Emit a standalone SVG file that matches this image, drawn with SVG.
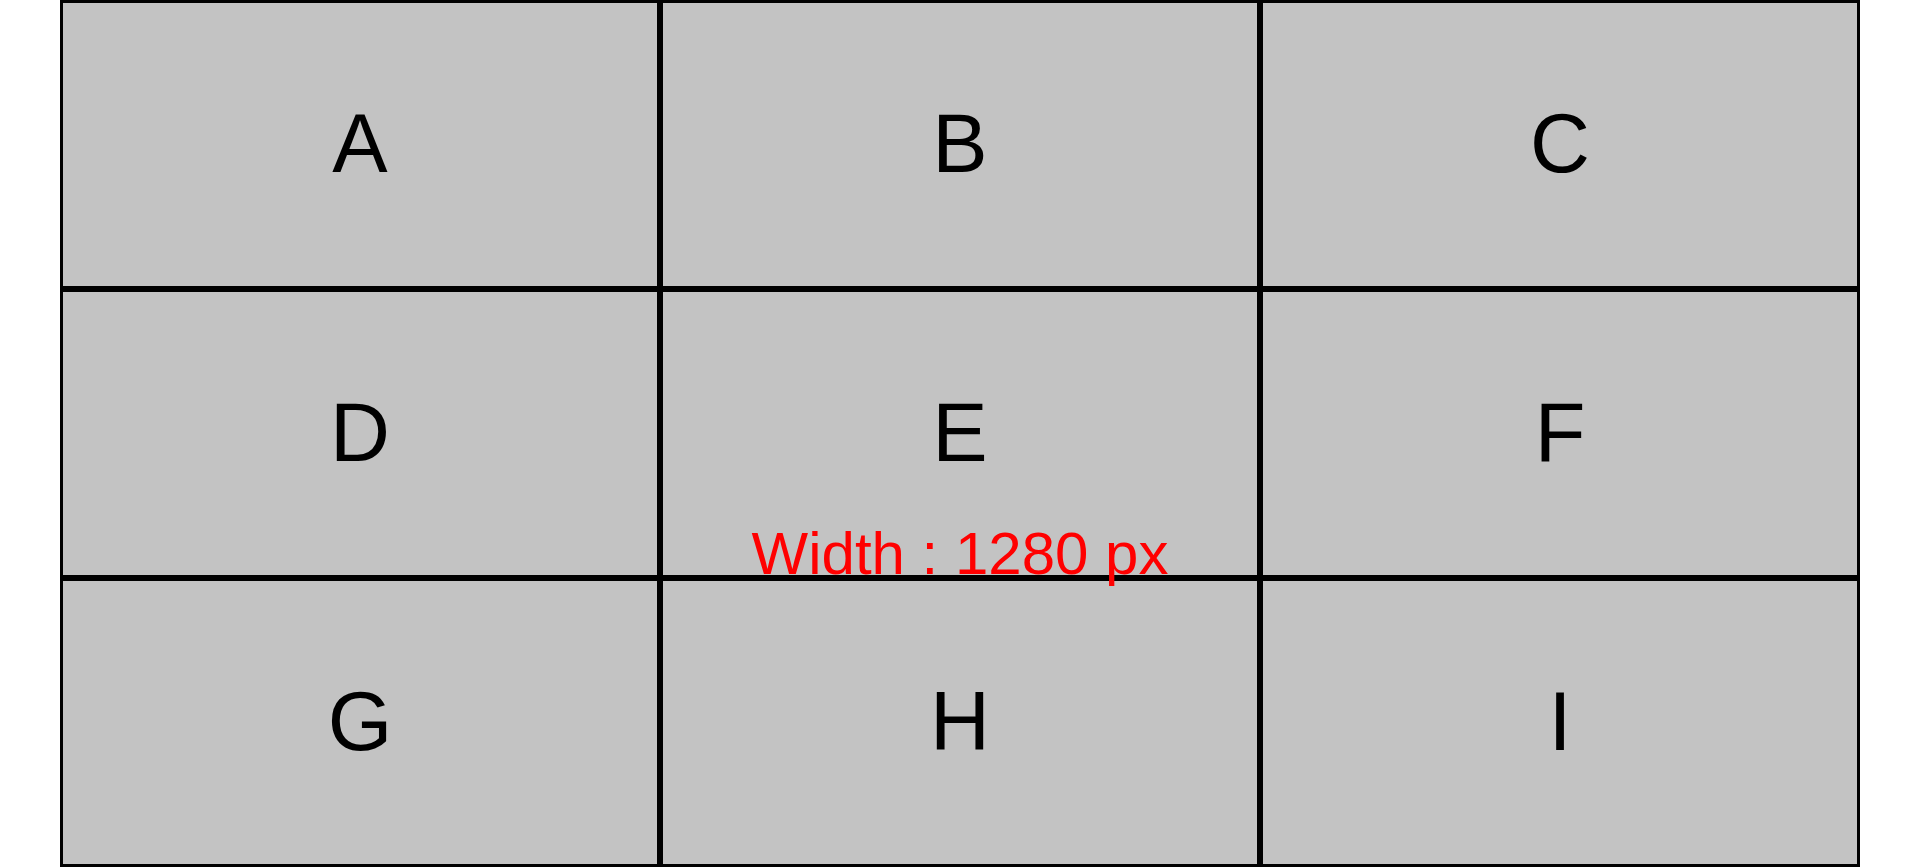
<svg xmlns="http://www.w3.org/2000/svg" width="1920" height="867" viewBox="0 0 1920 867">
<style>
.cell rect{fill:#c3c3c3;stroke:#000;stroke-width:3}
.cell text{font-family:"Liberation Sans",Arial,sans-serif;font-size:83px;fill:#000;text-anchor:middle}
.lbl{font-family:"Liberation Sans",Arial,sans-serif;font-size:60px;fill:#ff0000;text-anchor:middle}
</style>
<rect x="0" y="0" width="1920" height="867" fill="#fff"/>
<g id="A" class="cell"><rect x="61.5" y="1.5" width="597" height="286"/><text x="360" y="172">A</text></g>
<g id="B" class="cell"><rect x="661.5" y="1.5" width="597" height="286"/><text x="960" y="172">B</text></g>
<g id="C" class="cell"><rect x="1261.5" y="1.5" width="597" height="286"/><text x="1560" y="172">C</text></g>
<g id="D" class="cell"><rect x="61.5" y="290.5" width="597" height="286"/><text x="360" y="461">D</text></g>
<g id="E" class="cell"><rect x="661.5" y="290.5" width="597" height="286"/><text x="960" y="461">E</text></g>
<g id="F" class="cell"><rect x="1261.5" y="290.5" width="597" height="286"/><text x="1560" y="461">F</text></g>
<g id="G" class="cell"><rect x="61.5" y="579.5" width="597" height="286"/><text x="360" y="750">G</text></g>
<g id="H" class="cell"><rect x="661.5" y="579.5" width="597" height="286"/><text x="960" y="750">H</text></g>
<g id="I" class="cell"><rect x="1261.5" y="579.5" width="597" height="286"/><text x="1560" y="750">I</text></g>
<g id="connectors"></g>
<text id="width-label" class="lbl" x="960" y="574">Width : 1280 px</text>
</svg>
